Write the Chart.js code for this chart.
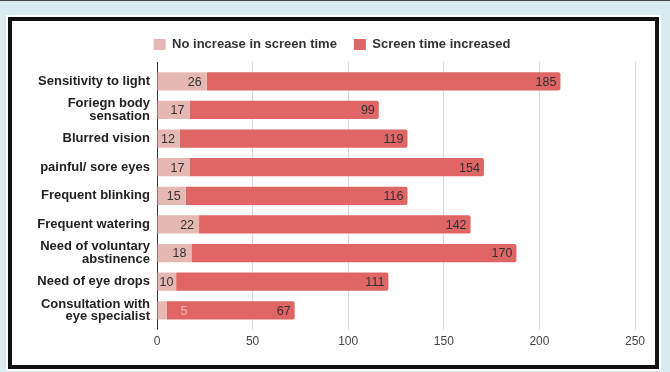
<!DOCTYPE html>
<html>
<head>
<meta charset="utf-8">
<script src="https://cdn.jsdelivr.net/npm/chart.js@4"></script>
<style>
  html, body { margin: 0; padding: 0; }
  body {
    width: 670px; height: 372px; overflow: hidden;
    background: #d7ebf0; position: relative;
  }
  #topline { position: absolute; left: 0; top: 0; width: 670px; height: 1px; background: #444; }
  #frame {
    position: absolute; left: 8px; top: 17px;
    width: 643px; height: 344px;
    border: 4px solid #111; background: #fff;
    outline: 2px solid #fff;
  }
  canvas { display: block; }
</style>
</head>
<body>
<div id="topline"></div>
<div id="frame"><canvas id="chart" width="643" height="344"></canvas></div>
<script>
// categories (multi-line ones as arrays)
const symptoms = [
    'Sensitivity to light',
    ['Foriegn body', 'sensation'],
    'Blurred vision',
    'painful/ sore eyes',
    'Frequent blinking',
    'Frequent watering',
    ['Need of voluntary', 'abstinence'],
    'Need of eye drops',
    ['Consultation with', 'eye specialist']
];
const noIncrease = [26, 17, 12, 17, 15, 22, 18, 10, 5];
const increased = [185, 99, 119, 154, 116, 142, 170, 111, 67];
const xTicks = [0, 50, 100, 150, 200, 250];

const lightColor = '#e6b8b3';
const darkColor = '#e06666';

Chart.defaults.font.family = '"Liberation Sans", Arial, sans-serif';

// numbers on the bars, at the inner end of each segment
const valueLabels = {
    id: 'valueLabels',
    afterDatasetsDraw(chart) {
        const ctx = chart.ctx;
        ctx.save();
        ctx.font = '12.5px "Liberation Sans", Arial, sans-serif';
        ctx.textBaseline = 'middle';
        chart.data.datasets.forEach((ds, di) => {
            chart.getDatasetMeta(di).data.forEach((bar, i) => {
                const text = String(ds.data[i]);
                const w = ctx.measureText(text).width;
                const right = Math.max(bar.x, bar.base);
                const left = Math.min(bar.x, bar.base);
                ctx.textAlign = 'right';
                if (right - left >= w + 3) {
                    ctx.fillStyle = '#333';
                    const pad = di === 0 ? 5 : 4;
                    ctx.fillText(text, Math.max(right - pad, left + w + 2), bar.y + 1);
                } else {
                    // too narrow: put it just past the segment, in its own colour
                    ctx.fillStyle = ds.backgroundColor;
                    ctx.textAlign = 'left';
                    ctx.fillText(text, right + 14, bar.y + 1);
                }
            });
        });
        ctx.restore();
    }
};

// grid lines poke out a little above the plot
const gridTop = {
    id: 'gridTop',
    beforeDatasetsDraw(chart) {
        const { ctx, chartArea, scales: { x } } = chart;
        ctx.save();
        ctx.lineWidth = 1;
        x.ticks.forEach(t => {
            const px = Math.round(x.getPixelForValue(t.value) - 0.5) + 0.5;
            ctx.strokeStyle = t.value === 0 ? '#333' : '#d9d9d9';
            ctx.beginPath();
            ctx.moveTo(px, chartArea.top - 5);
            ctx.lineTo(px, chartArea.top);
            ctx.stroke();
        });
        ctx.restore();
    }
};

// a bit more room under the legend, and nudge it right
const legendGap = {
    id: 'legendGap',
    beforeInit(chart) {
        const fit = chart.legend.fit;
        chart.legend.fit = function () {
            fit.call(this);
            this.height += 6;
        };
    },
    afterLayout(chart) {
        chart.legend.left += 17;
    }
};

new Chart(document.getElementById('chart'), {
    type: 'bar',
    data: {
        labels: symptoms,
        datasets: [
            {
                label: 'No increase in screen time',
                data: noIncrease,
                backgroundColor: lightColor,
                borderRadius: 2,
                barPercentage: 0.64,
                categoryPercentage: 1
            },
            {
                label: 'Screen time increased',
                data: increased,
                backgroundColor: darkColor,
                borderRadius: 2,
                barPercentage: 0.64,
                categoryPercentage: 1
            }
        ]
    },
    options: {
        indexAxis: 'y',
        responsive: false,
        animation: false,
        layout: { padding: { top: 0, right: 20, bottom: 11, left: 0 } },
        scales: {
            x: {
                stacked: true,
                min: xTicks[0],
                max: xTicks[xTicks.length - 1],
                afterBuildTicks: scale => { scale.ticks = xTicks.map(v => ({ value: v })); },
                grid: {
                    color: c => (c.tick && c.tick.value === 0) ? '#333' : '#d9d9d9',
                    tickLength: 5
                },
                border: { display: false },
                ticks: {
                    padding: 5,
                    color: '#444',
                    font: { size: 12 }
                }
            },
            y: {
                stacked: true,
                afterFit: scale => { scale.width = 145; },
                grid: { display: false, drawTicks: false },
                border: { display: false },
                ticks: {
                    padding: 7,
                    color: '#222',
                    font: { size: 13, weight: 'bold', lineHeight: 0.97 }
                }
            }
        },
        plugins: {
            legend: {
                position: 'top',
                labels: {
                    boxWidth: 12,
                    boxHeight: 11,
                    padding: 17,
                    color: '#333',
                    font: { size: 13, weight: 'bold' }
                }
            },
            tooltip: { enabled: false }
        }
    },
    plugins: [valueLabels, gridTop, legendGap]
});
</script>
</body>
</html>
